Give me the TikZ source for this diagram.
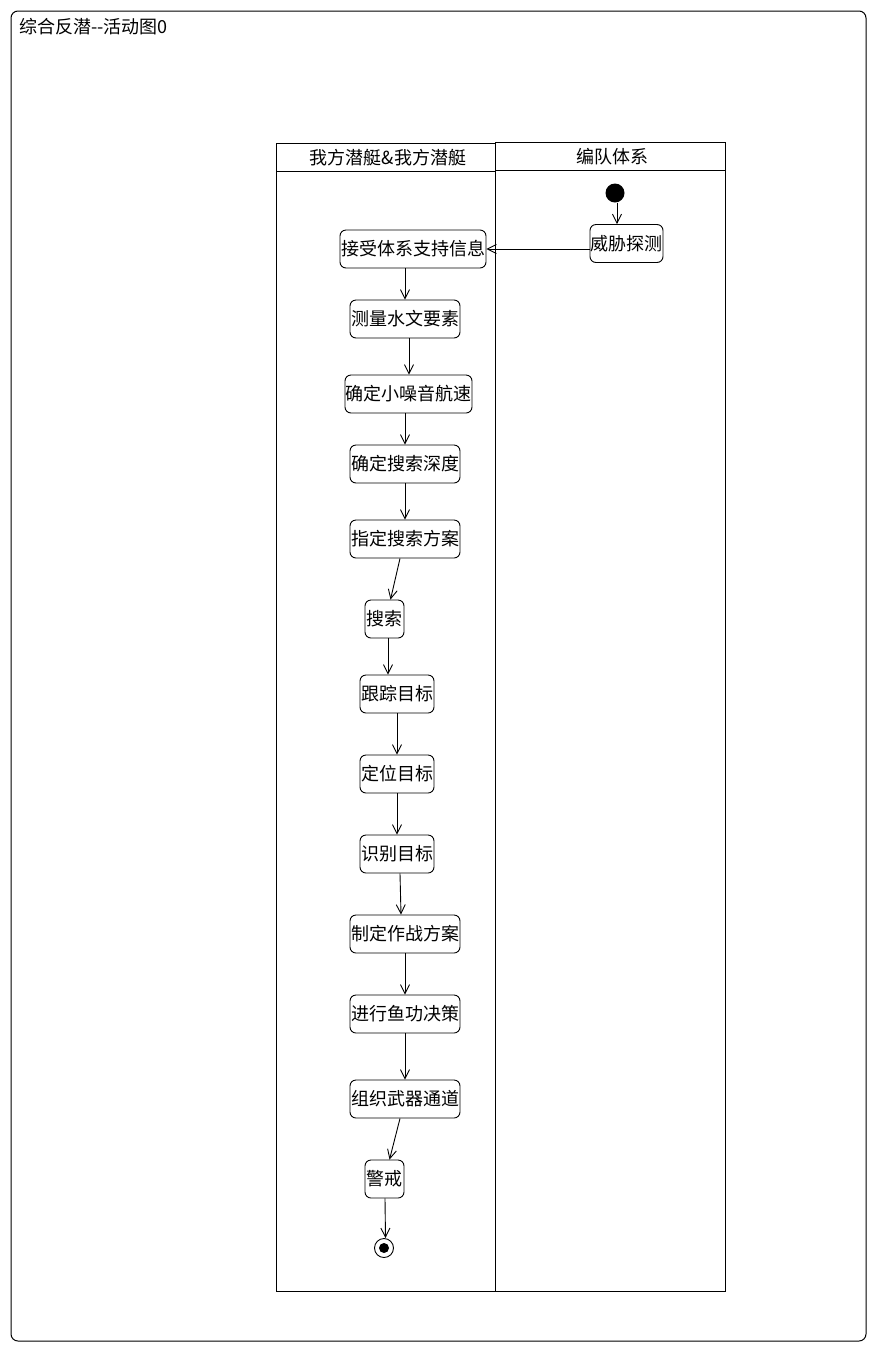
\documentclass[tikz,border=0pt]{standalone}
\usepackage{fontspec}
\setmainfont{Noto Sans CJK SC}
\usetikzlibrary{arrows.meta,calc}
\begin{document}
\begin{tikzpicture}[x=1pt,y=-1pt,
  every node/.style={font=\fontsize{18}{20}\selectfont},
  act/.style={draw, line width=0.9pt, rounded corners=6pt, minimum height=38pt, inner sep=0pt},
  flow/.style={line width=0.9pt, -{Straight Barb[length=9pt,width=9pt]}},
  lane/.style={draw, line width=0.9pt}
]
\useasboundingbox (0,0) rectangle (877,1353);
% outer frame and title
\draw[line width=1pt, rounded corners=7pt] (11,11) rectangle (866,1341);
\node[anchor=west, inner sep=0pt] (title) at (19,27) {综合反潜-{}-活动图0};

% swimlanes
\draw[lane] (276,143) rectangle (495,1291);
\draw[lane] (276,171) -- (495,171);
\node (laneA) at (388,158) {我方潜艇\&我方潜艇};
\draw[lane] (495,142) rectangle (725,1291);
\draw[lane] (495,170) -- (725,170);
\node (laneB) at (612,157) {编队体系};

% initial and final nodes
\node[circle, fill=black, minimum size=19pt, inner sep=0pt] (start) at (615,193) {};
\node[circle, draw, line width=0.9pt, minimum size=19pt, inner sep=0pt] (stop) at (384,1248) {};
\fill (stop.center) circle (5pt);

% activities
\node[act, minimum width=73pt] (threat) at (626.5,243.5) {威胁探测};
\node[act, minimum width=146pt] (recv) at (413,249) {接受体系支持信息};
\node[act, minimum width=110pt] (hydro) at (405,319) {测量水文要素};
\node[act, minimum width=127pt] (speed) at (408.5,394) {确定小噪音航速};
\node[act, minimum width=110pt] (depth) at (405,464) {确定搜索深度};
\node[act, minimum width=110pt] (plan) at (405,539) {指定搜索方案};
\node[act, minimum width=39pt] (search) at (384.5,619) {搜索};
\node[act, minimum width=74pt] (track) at (397,694) {跟踪目标};
\node[act, minimum width=74pt] (locate) at (397,774) {定位目标};
\node[act, minimum width=74pt] (ident) at (397,854) {识别目标};
\node[act, minimum width=110pt] (combat) at (405,934) {制定作战方案};
\node[act, minimum width=110pt] (torp) at (405,1014) {进行鱼功决策};
\node[act, minimum width=110pt] (weapon) at (405,1099) {组织武器通道};
\node[act, minimum width=39pt] (guard) at (384.5,1179) {警戒};

% control flow
\draw[flow] ([xshift=2pt]start.south) -- ([xshift=-9.5pt]threat.north);
\draw[flow] ([yshift=-5.5pt]threat.west) -- (recv.east);
\draw[flow] ([xshift=-8pt]recv.south) -- (hydro.north);
\draw[flow] ([xshift=4pt]hydro.south) -- ([xshift=0.5pt]speed.north);
\draw[flow] ([xshift=-3.5pt]speed.south) -- (depth.north);
\draw[flow] (depth.south) -- (plan.north);
\draw[flow] ([xshift=-5pt]plan.south) -- ([xshift=6pt]search.north);
\draw[flow] ([xshift=3.5pt]search.south) -- ([xshift=-9pt]track.north);
\draw[flow] (track.south) -- (locate.north);
\draw[flow] (locate.south) -- (ident.north);
\draw[flow] ([xshift=3pt]ident.south) -- ([xshift=-4pt]combat.north);
\draw[flow] (combat.south) -- (torp.north);
\draw[flow] (torp.south) -- (weapon.north);
\draw[flow] ([xshift=-5pt]weapon.south) -- ([xshift=5pt]guard.north);
\draw[flow] ([xshift=0.5pt]guard.south) -- ([xshift=1.5pt]stop.north);
\end{tikzpicture}
\end{document}
